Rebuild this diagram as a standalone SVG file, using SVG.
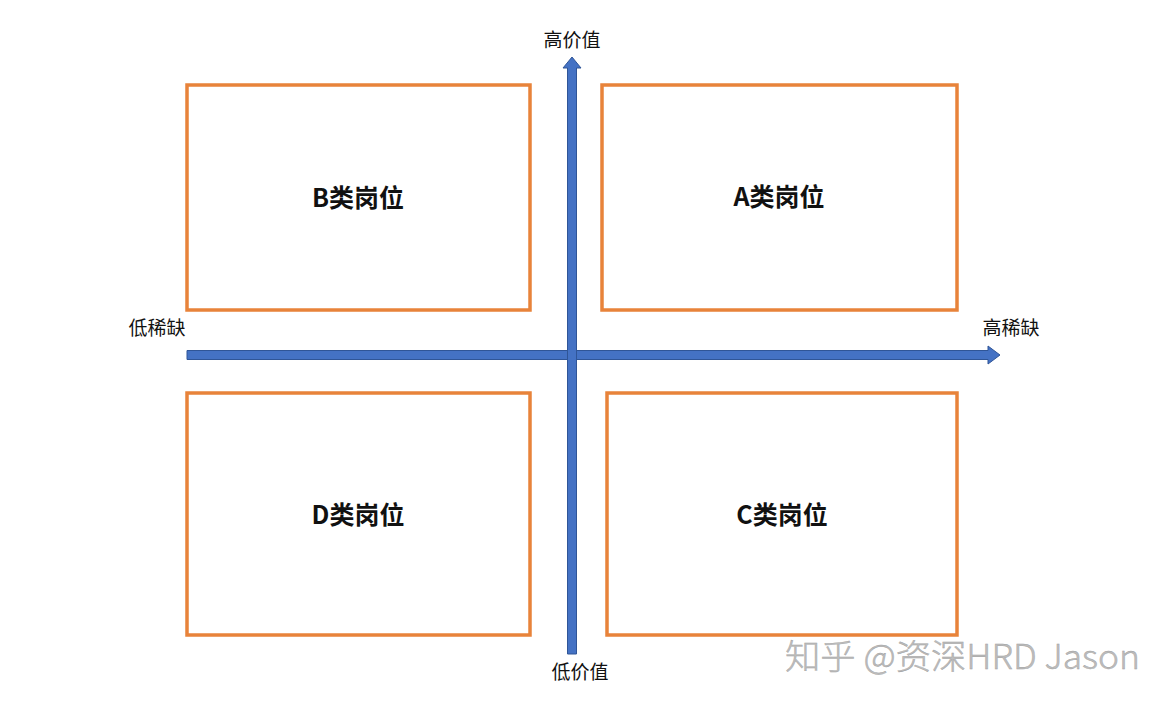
<svg xmlns="http://www.w3.org/2000/svg" width="1171" height="705" viewBox="0 0 1171 705">
<style>
.box{fill:none;stroke:#E8833A;stroke-width:3.5}
.lbl{font-family:"Noto Sans CJK SC","Liberation Sans",sans-serif;font-size:25px;font-weight:bold;fill:#111;text-anchor:middle}
.ax{font-family:"Noto Sans CJK SC","Liberation Sans",sans-serif;font-size:19px;fill:#111;text-anchor:middle}
.arr{fill:#4472C4;stroke:#2F5597;stroke-width:1}
.wm{font-family:"Noto Sans CJK SC","Liberation Sans",sans-serif;font-size:34px;font-weight:300;fill:#bdbdbd;stroke:#a0a0a0;stroke-width:0.4}
</style>
<rect width="1171" height="705" fill="#fff"/>
<g id="connectors">
<path class="arr" d="M187,350.5 H988 V346 L1000,355 L988,364 V359.5 H187 Z"/>
<path class="arr" d="M567.5,654 V68 H563 L572,57 L581,68 H576.5 V654 Z"/>
</g>
<g id="nodeB"><rect class="box" x="187" y="85" width="343" height="225"/><text class="lbl" x="358" y="207">B类岗位</text></g>
<g id="nodeA"><rect class="box" x="602" y="85" width="355" height="225"/><text class="lbl" x="779" y="206">A类岗位</text></g>
<g id="nodeD"><rect class="box" x="187" y="393" width="343" height="242"/><text class="lbl" x="358" y="524">D类岗位</text></g>
<g id="nodeC"><rect class="box" x="607" y="393" width="350" height="242"/><text class="lbl" x="782" y="524">C类岗位</text></g>
<text class="ax" x="572" y="47">高价值</text>
<text class="ax" x="580" y="679">低价值</text>
<text class="ax" x="157" y="335">低稀缺</text>
<text class="ax" x="1011" y="335">高稀缺</text>
<text class="wm" x="785" y="669" textLength="355" lengthAdjust="spacingAndGlyphs">知乎 @资深HRD Jason</text>
</svg>
